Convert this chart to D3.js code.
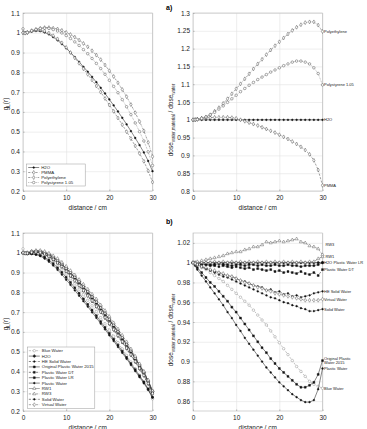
<!DOCTYPE html>
<html>
<head>
<meta charset="utf-8">
<script src="https://cdnjs.cloudflare.com/ajax/libs/d3/7.8.5/d3.min.js"></script>
<style>
body { margin: 0; background: #fff; }
svg { font-family: "Liberation Sans", Arial, sans-serif; }
</style>
</head>
<body>
<svg id="chart" width="367" height="429"></svg>
<script>
// distances (cm) shared by every curve
var distance = [0,0.5,1,2,3,4,5,6,7,8,9,10,11,12,13,14,15,16,17,18,19,20,21,22,23,24,25,26,27,28,29,30];

// a) radial dose function g_L(r)
var gH2O          = [1.000,0.998,1.000,1.006,1.009,1.008,1.002,0.992,0.978,0.962,0.943,0.922,0.900,0.877,0.853,0.828,0.803,0.777,0.750,0.722,0.693,0.663,0.633,0.602,0.570,0.537,0.503,0.468,0.432,0.395,0.352,0.300];
var gPMMA         = [1.000,0.999,1.002,1.010,1.014,1.014,1.009,0.999,0.985,0.969,0.949,0.926,0.900,0.873,0.846,0.818,0.790,0.761,0.731,0.700,0.668,0.635,0.603,0.569,0.535,0.500,0.465,0.428,0.390,0.350,0.302,0.245];
var gPolyethylene = [1.000,0.998,1.001,1.010,1.017,1.022,1.026,1.026,1.023,1.019,1.012,1.002,0.991,0.978,0.963,0.946,0.929,0.909,0.887,0.864,0.837,0.808,0.779,0.747,0.713,0.677,0.637,0.596,0.551,0.504,0.446,0.374];
var gPolystyrene  = [1.020,0.998,1.001,1.010,1.017,1.022,1.023,1.022,1.016,1.009,0.999,0.986,0.971,0.954,0.936,0.915,0.894,0.870,0.845,0.819,0.790,0.760,0.729,0.697,0.662,0.626,0.586,0.544,0.500,0.453,0.398,0.329];

// a) dose ratio material / water
var rH2O          = [1,1,1,1,1,1,1,1,1,1,1,1,1,1,1,1,1,1,1,1,1,1,1,1,1,1,1,1,1,1,1,1];
var rPMMA         = [1.000,1.001,1.002,1.004,1.005,1.006,1.007,1.007,1.007,1.007,1.006,1.004,1.000,0.996,0.992,0.988,0.984,0.979,0.974,0.969,0.964,0.958,0.952,0.946,0.939,0.932,0.924,0.915,0.903,0.886,0.859,0.816];
var rPolyethylene = [1.000,1.000,1.001,1.004,1.008,1.014,1.024,1.034,1.046,1.059,1.073,1.087,1.101,1.115,1.129,1.143,1.157,1.170,1.183,1.196,1.208,1.219,1.230,1.241,1.251,1.260,1.267,1.273,1.275,1.275,1.266,1.248];
var rPolystyrene  = [1.000,1.000,1.001,1.004,1.008,1.014,1.021,1.030,1.039,1.049,1.059,1.069,1.079,1.088,1.097,1.105,1.113,1.120,1.127,1.134,1.140,1.146,1.152,1.157,1.162,1.165,1.165,1.162,1.157,1.146,1.130,1.098];

// b) radial dose function g_L(r)
var gBlueWater   = [1.020,0.997,0.998,1.001,1.002,0.998,0.989,0.976,0.959,0.940,0.918,0.893,0.869,0.843,0.816,0.788,0.760,0.732,0.703,0.672,0.641,0.609,0.578,0.546,0.514,0.481,0.448,0.414,0.380,0.346,0.308,0.262];
var gH2Ob        = gH2O;
var gHESolid     = [1.000,0.997,0.998,1.002,1.003,1.001,0.993,0.982,0.966,0.949,0.930,0.907,0.884,0.860,0.835,0.809,0.784,0.758,0.729,0.703,0.672,0.644,0.613,0.583,0.551,0.519,0.485,0.452,0.418,0.383,0.341,0.291];
var gOrigPW2015  = [1.000,0.996,0.995,0.996,0.994,0.988,0.978,0.963,0.945,0.924,0.901,0.876,0.850,0.823,0.795,0.767,0.739,0.710,0.682,0.652,0.622,0.592,0.563,0.533,0.502,0.471,0.440,0.409,0.378,0.347,0.312,0.270];
var gPWDT        = [1.000,0.998,0.999,1.004,1.007,1.005,0.999,0.988,0.975,0.958,0.938,0.918,0.896,0.872,0.849,0.822,0.798,0.772,0.744,0.717,0.687,0.658,0.627,0.597,0.564,0.531,0.498,0.463,0.427,0.391,0.347,0.298];
var gPWLR        = [1.000,0.998,0.999,1.005,1.007,1.006,1.000,0.991,0.976,0.960,0.940,0.920,0.898,0.874,0.851,0.826,0.801,0.775,0.748,0.720,0.692,0.661,0.631,0.601,0.568,0.535,0.501,0.467,0.431,0.394,0.351,0.300];
var gPW          = [1.000,0.995,0.993,0.993,0.990,0.983,0.971,0.955,0.936,0.914,0.890,0.864,0.838,0.810,0.783,0.755,0.728,0.699,0.671,0.642,0.613,0.583,0.554,0.524,0.494,0.464,0.433,0.402,0.371,0.340,0.307,0.268];
var gRW1         = [1.000,0.998,1.000,1.006,1.009,1.008,1.003,0.992,0.979,0.962,0.944,0.922,0.901,0.877,0.854,0.828,0.804,0.777,0.751,0.722,0.694,0.663,0.634,0.602,0.571,0.537,0.504,0.468,0.432,0.395,0.353,0.302];
var gRW3         = [1.000,0.998,1.001,1.008,1.012,1.012,1.007,0.998,0.985,0.971,0.952,0.932,0.910,0.888,0.865,0.841,0.816,0.791,0.766,0.736,0.708,0.678,0.646,0.615,0.583,0.550,0.514,0.477,0.439,0.401,0.357,0.302];
var gSolid       = [1.000,0.997,0.998,1.002,1.003,1.000,0.992,0.980,0.964,0.948,0.927,0.904,0.881,0.857,0.832,0.806,0.780,0.753,0.725,0.697,0.668,0.638,0.608,0.577,0.545,0.513,0.480,0.446,0.411,0.376,0.335,0.286];
var gVirtual     = [1.000,0.997,0.998,1.002,1.004,1.001,0.994,0.982,0.967,0.949,0.930,0.907,0.884,0.859,0.835,0.809,0.783,0.757,0.729,0.701,0.672,0.642,0.612,0.582,0.550,0.518,0.484,0.450,0.416,0.380,0.339,0.289];

// b) dose ratio material / water
var rBlueWater  = [1,0.999,0.998,0.995,0.993,0.990,0.987,0.984,0.981,0.977,0.973,0.969,0.965,0.961,0.957,0.952,0.947,0.942,0.937,0.931,0.925,0.919,0.913,0.907,0.901,0.895,0.890,0.885,0.880,0.877,0.875,0.873];
var rH2Ob       = rH2O;
var rHESolid    = [1,0.999,0.998,0.996,0.994,0.993,0.991,0.990,0.988,0.987,0.986,0.984,0.982,0.981,0.979,0.977,0.976,0.975,0.972,0.973,0.970,0.971,0.968,0.969,0.966,0.967,0.965,0.966,0.967,0.969,0.970,0.971];
var rOrigPW2015 = [1,0.998,0.995,0.990,0.985,0.980,0.976,0.971,0.966,0.961,0.955,0.950,0.944,0.938,0.932,0.926,0.920,0.914,0.909,0.903,0.898,0.893,0.889,0.885,0.881,0.877,0.874,0.874,0.876,0.879,0.887,0.901];
var rPWDT       = [1,1.000,0.999,0.998,0.998,0.997,0.997,0.996,0.997,0.996,0.995,0.996,0.995,0.994,0.995,0.993,0.994,0.993,0.992,0.993,0.991,0.992,0.990,0.991,0.990,0.989,0.991,0.989,0.988,0.990,0.987,0.993];
var rPWLR       = [1,1.000,0.999,0.999,0.998,0.998,0.998,0.999,0.998,0.998,0.997,0.998,0.998,0.997,0.998,0.998,0.997,0.998,0.997,0.997,0.998,0.997,0.997,0.998,0.997,0.997,0.996,0.997,0.997,0.997,0.998,1.000];
var rPW         = [1,0.997,0.993,0.987,0.981,0.975,0.969,0.963,0.957,0.950,0.944,0.937,0.931,0.924,0.918,0.912,0.906,0.900,0.894,0.889,0.884,0.879,0.875,0.871,0.867,0.864,0.861,0.859,0.859,0.861,0.872,0.893];
var rRW1        = [1,1,1,1,1,1,1.001,1,1.001,1,1.001,1,1.001,1,1.001,1,1.001,1,1.001,1,1.001,1,1.001,1,1.001,1,1.001,1,1.001,1.001,1.004,1.006];
var rRW3        = [1,1,1.001,1.002,1.003,1.004,1.005,1.006,1.007,1.009,1.010,1.011,1.011,1.013,1.014,1.016,1.016,1.018,1.021,1.020,1.021,1.022,1.021,1.022,1.023,1.024,1.021,1.020,1.017,1.016,1.014,1.008];
var rSolid      = [1,0.999,0.998,0.996,0.994,0.992,0.990,0.988,0.986,0.985,0.983,0.981,0.979,0.977,0.975,0.973,0.971,0.969,0.967,0.965,0.964,0.962,0.960,0.959,0.957,0.956,0.954,0.953,0.951,0.951,0.952,0.953];
var rVirtual    = [1,0.999,0.998,0.996,0.995,0.993,0.992,0.990,0.989,0.987,0.986,0.984,0.982,0.980,0.979,0.977,0.975,0.974,0.972,0.971,0.969,0.968,0.967,0.966,0.965,0.964,0.963,0.962,0.962,0.962,0.962,0.963];

// tick labels
var xTicks = [0, 10, 20, 30];
var gTicks = ["0.2","0.3","0.4","0.5","0.6","0.7","0.8","0.9","1","1.1"];
var ratioTicksA = ["0.8","0.85","0.9","0.95","1","1.05","1.1","1.15","1.2","1.25","1.3"];
var ratioTicksB = ["0.86","0.88","0.9","0.92","0.94","0.96","0.98","1","1.02"];

var svg = d3.select("#chart");

function makePanel(left, top, yDomain, yTicks) {
    var w = 129.5, h = 178;
    var root = svg.append('g').attr('transform', "translate(" + left + "," + top + ")");
    var x = d3.scaleLinear().domain([0, 30]).range([0, w]);
    var y = d3.scaleLinear().domain(yDomain).range([h, 0]);
    var yVals = yTicks.map(Number);

    // grid
    root.append('g').attr('class', 'grid')
        .attr('transform', "translate(0," + h + ")")
        .call(d3.axisBottom(x).tickValues(xTicks).tickSize(-h).tickFormat(""));
    root.append('g').attr('class', 'grid')
        .call(d3.axisLeft(y).tickValues(yVals).tickSize(-w).tickFormat(""));
    root.selectAll('.grid line').attr('stroke', '#e3e3e3').attr('stroke-width', 0.6);
    root.selectAll('.grid path').remove();

    // axes with inward ticks
    var xa = root.append('g').attr('transform', "translate(0," + h + ")")
        .call(d3.axisBottom(x).tickValues(xTicks).tickSize(-1.5).tickPadding(4).tickFormat(d3.format("d")));
    var ya = root.append('g')
        .call(d3.axisLeft(y).tickValues(yVals).tickSize(-1.5).tickPadding(3)
            .tickFormat(function (d, i) { return yTicks[i]; }));
    [xa, ya].forEach(function (a) {
        a.selectAll('path').remove();
        a.selectAll('line').attr('stroke', '#777').attr('stroke-width', 0.5);
        a.selectAll('text').attr('font-size', 6.5).attr('fill', '#222')
            .attr('font-family', '"Liberation Sans", Arial, sans-serif');
    });
    xa.selectAll('text').attr('dy', '0.75em');

    root.append('rect')
        .attr('width', w).attr('height', h)
        .attr('fill', 'none').attr('stroke', '#b5b5b5').attr('stroke-width', 0.6);

    root.append('text')
        .attr('x', w / 2).attr('y', h + 18.5)
        .attr('text-anchor', 'middle').attr('font-size', 6.5).attr('fill', '#222')
        .text("distance / cm");

    var plot = root.append('g');
    return {root: root, plot: plot, x: x, y: y, w: w, h: h};
}

function markerPath(type) {
    var sym = {
        o: d3.symbolCircle, d: d3.symbolDiamond, s: d3.symbolSquare,
        '^': d3.symbolTriangle, '+': d3.symbolCross, '.': d3.symbolCircle, '*': d3.symbolStar
    }[type];
    var size = {o: 5, d: 4.5, s: 3.6, '^': 4.5, '+': 3.6, '.': 2.4, '*': 5}[type];
    return d3.symbol().type(sym).size(size)();
}

var dashes = {'-': null, '--': '2.2,1.4', '-.': '2.2,1,0.5,1', ':': '0.6,1'};

function drawSeries(p, values, st) {
    var pts = distance.map(function (d, i) { return [d, values[i]]; });
    var line = d3.line().x(function (d) { return p.x(d[0]); }).y(function (d) { return p.y(d[1]); });
    var g = p.plot.append('g');
    g.append('path').datum(pts)
        .attr('d', line).attr('fill', 'none')
        .attr('stroke', st.color).attr('stroke-width', 0.5)
        .attr('stroke-dasharray', dashes[st.ls]);
    g.selectAll('path.m').data(pts).enter().append('path')
        .attr('class', 'm')
        .attr('transform', function (d) { return "translate(" + p.x(d[0]) + "," + p.y(d[1]) + ")"; })
        .attr('d', markerPath(st.mk))
        .attr('fill', st.filled ? st.color : '#fff')
        .attr('stroke', st.color).attr('stroke-width', 0.45);
}

function drawLegend(p, items, top, left, width, rowH) {
    var lg = p.root.append('g').attr('transform', "translate(" + left + "," + top + ")");
    lg.append('rect').attr('width', width).attr('height', items.length * rowH + 2)
        .attr('fill', '#fff').attr('stroke', '#9a9a9a').attr('stroke-width', 0.5);
    items.forEach(function (it, i) {
        var yy = 1 + rowH * (i + 0.5);
        lg.append('line').attr('x1', 1.5).attr('x2', 12.5).attr('y1', yy).attr('y2', yy)
            .attr('stroke', it.st.color).attr('stroke-width', 0.5)
            .attr('stroke-dasharray', dashes[it.st.ls]);
        lg.append('path').attr('transform', "translate(7," + yy + ")")
            .attr('d', markerPath(it.st.mk))
            .attr('fill', it.st.filled ? it.st.color : '#fff')
            .attr('stroke', it.st.color).attr('stroke-width', 0.45);
        lg.append('text').attr('x', 14.5).attr('y', yy).attr('dy', '0.35em')
            .attr('font-size', 4.3).attr('fill', '#222').text(it.name);
    });
}

function endLabel(p, value, lines, dx) {
    var t = p.root.append('text')
        .attr('x', p.w + (dx || 1.5)).attr('y', p.y(value))
        .attr('font-size', 4).attr('fill', '#222');
    lines.forEach(function (s, i) {
        t.append('tspan').attr('x', p.w + (dx || 1.5))
            .attr('dy', i === 0 ? (0.35 - (lines.length - 1) * 0.6) + 'em' : '1.2em').text(s);
    });
}

function yLabelG(left, cy) {
    var t = svg.append('text')
        .attr('transform', "translate(" + left + "," + cy + ") rotate(-90)")
        .attr('text-anchor', 'middle').attr('font-size', 6.5).attr('fill', '#222');
    t.append('tspan').text("g");
    t.append('tspan').attr('font-size', 4.5).attr('dy', 1.6).text("L");
    t.append('tspan').attr('dy', -1.6).text("(r)");
}

function yLabelRatio(left, cy) {
    var t = svg.append('text')
        .attr('transform', "translate(" + left + "," + cy + ") rotate(-90)")
        .attr('text-anchor', 'middle').attr('font-size', 6.5).attr('fill', '#222');
    t.append('tspan').text("dose");
    t.append('tspan').attr('font-size', 4.5).attr('dy', 1.6).text("water,material");
    t.append('tspan').attr('dy', -1.6).text(" / dose");
    t.append('tspan').attr('font-size', 4.5).attr('dy', 1.6).text("water");
}

// ---- styles
var stA = {
    H2O: {color: '#111', ls: '-', mk: '.', filled: true},
    PMMA: {color: '#444', ls: '--', mk: 'd', filled: false},
    Polyethylene: {color: '#444', ls: '-.', mk: 'd', filled: false},
    Polystyrene: {color: '#444', ls: ':', mk: 'o', filled: false}
};
var stB = {
    blue: {color: '#888', ls: '--', mk: 'o', filled: false},
    h2o: {color: '#111', ls: '-', mk: '+', filled: true},
    he: {color: '#111', ls: '-.', mk: '.', filled: true},
    orig: {color: '#111', ls: '-', mk: 's', filled: true},
    dt: {color: '#111', ls: '--', mk: 's', filled: true},
    lr: {color: '#111', ls: '-', mk: 's', filled: true},
    pw: {color: '#111', ls: '-', mk: '.', filled: true},
    rw1: {color: '#555', ls: '-', mk: '^', filled: false},
    rw3: {color: '#555', ls: '--', mk: '^', filled: false},
    solid: {color: '#111', ls: '-.', mk: '.', filled: true},
    virt: {color: '#555', ls: '--', mk: 'd', filled: false}
};

// ---- panel a) left
var pA1 = makePanel(23, 13, [0.2, 1.1], gTicks);
drawSeries(pA1, gH2O, stA.H2O);
drawSeries(pA1, gPMMA, stA.PMMA);
drawSeries(pA1, gPolyethylene, stA.Polyethylene);
drawSeries(pA1, gPolystyrene, stA.Polystyrene);
drawLegend(pA1, [
    {name: "H2O", st: stA.H2O}, {name: "PMMA", st: stA.PMMA},
    {name: "Polyethylene", st: stA.Polyethylene}, {name: "Polystyrene 1.05", st: stA.Polystyrene}
], 151, 3.7, 58.5, 5);
yLabelG(8, 104);

// ---- panel a) right
var pA2 = makePanel(193, 13, [0.8, 1.3], ratioTicksA);
drawSeries(pA2, rH2O, stA.H2O);
drawSeries(pA2, rPMMA, stA.PMMA);
drawSeries(pA2, rPolyethylene, stA.Polyethylene);
drawSeries(pA2, rPolystyrene, stA.Polystyrene);
endLabel(pA2, rPolyethylene[31], ["Polyethylene"]);
endLabel(pA2, rPolystyrene[31], ["Polystyrene 1.05"]);
endLabel(pA2, rH2O[31], ["H2O"]);
endLabel(pA2, rPMMA[31], ["PMMA"]);
yLabelRatio(173, 120);
svg.append('text').attr('x', 166).attr('y', 10).attr('font-size', 7).attr('font-weight', 'bold').text("a)");

// ---- panel b) left
var namesB = ["Blue Water", "H2O", "HE Solid Water", "Original Plastic Water 2015", "Plastic Water DT",
    "Plastic Water LR", "Plastic Water", "RW1", "RW3", "Solid Water", "Virtual Water"];
var keysB = ['blue', 'h2o', 'he', 'orig', 'dt', 'lr', 'pw', 'rw1', 'rw3', 'solid', 'virt'];
var gB = [gBlueWater, gH2Ob, gHESolid, gOrigPW2015, gPWDT, gPWLR, gPW, gRW1, gRW3, gSolid, gVirtual];
var rB = [rBlueWater, rH2Ob, rHESolid, rOrigPW2015, rPWDT, rPWLR, rPW, rRW1, rRW3, rSolid, rVirtual];

var pB1 = makePanel(23, 233, [0.2, 1.1], gTicks);
gB.forEach(function (v, i) { drawSeries(pB1, v, stB[keysB[i]]); });
drawLegend(pB1, namesB.map(function (n, i) { return {name: n, st: stB[keysB[i]]}; }), 114, 4.3, 67.5, 5.4);
yLabelG(8, 324);

// ---- panel b) right
var pB2 = makePanel(193, 233, [0.85, 1.03], ratioTicksB);
rB.forEach(function (v, i) { drawSeries(pB2, v, stB[keysB[i]]); });
endLabel(pB2, 1.0185, ["RW3"], 3);
endLabel(pB2, 1.0065, ["RW1"], 3);
endLabel(pB2, rH2Ob[31], ["H2O"]);
endLabel(pB2, rPWLR[31], ["Plastic Water LR"], 11);
endLabel(pB2, rPWDT[31], ["Plastic Water DT"]);
endLabel(pB2, rHESolid[31], ["HE Solid Water"]);
endLabel(pB2, rVirtual[31], ["Virtual Water"]);
endLabel(pB2, rSolid[31], ["Solid Water"]);
endLabel(pB2, rOrigPW2015[31], ["Original Plastic", "Water 2015"]);
endLabel(pB2, rPW[31], ["Plastic Water"]);
endLabel(pB2, rBlueWater[31], ["Blue Water"]);
yLabelRatio(173, 330);
svg.append('text').attr('x', 166).attr('y', 224).attr('font-size', 7).attr('font-weight', 'bold').text("b)");
</script>
</body>
</html>
